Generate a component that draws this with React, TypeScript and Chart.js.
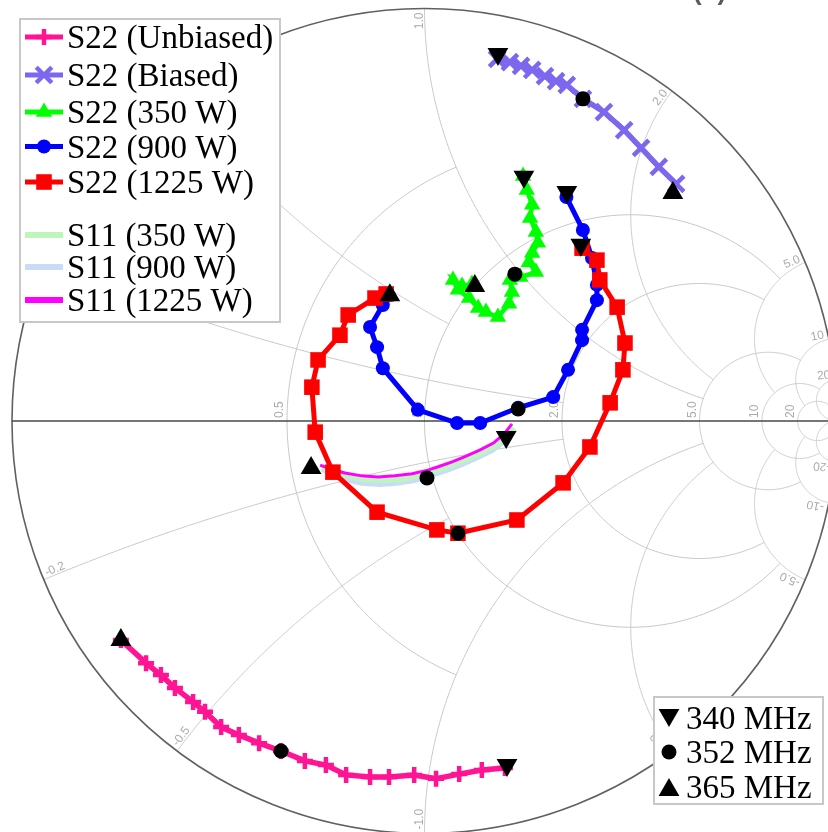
import React, { useEffect, useRef } from "react";
import { Chart, registerables } from "chart.js";

Chart.register(...registerables);

// ---------- Smith chart grid ----------
const resistanceValues = [0.5, 1, 2, 5, 10, 20];
const resistanceLabels = ["0.5", "1.0", "2.0", "5.0", "10", "20"];
const resistanceReach = [1, 5, 5, 10, 20, Infinity];
const reactanceValues = [0.2, 0.5, 1, 2, 5, 10, 20];
const reactanceLabels = ["0.2", "0.5", "1.0", "2.0", "5.0", "10", "20"];
const reactanceReach = [2, 1, 5, 5, 10, 20, Infinity];

// ---------- Series (reflection coefficient, real / imaginary) ----------
const s22UnbiasedRe = [0.195, 0.139, 0.084, 0.028, -0.025, -0.086, -0.132, -0.19, -0.239, -0.29, -0.348, -0.401, -0.45, -0.493, -0.532, -0.561, -0.605, -0.639, -0.675, -0.736];
const s22UnbiasedIm = [-0.841, -0.846, -0.856, -0.867, -0.858, -0.863, -0.863, -0.858, -0.834, -0.824, -0.8, -0.781, -0.761, -0.742, -0.705, -0.681, -0.647, -0.616, -0.587, -0.531];

const s22BiasedRe = [0.176, 0.207, 0.234, 0.261, 0.292, 0.319, 0.345, 0.384, 0.435, 0.484, 0.525, 0.568, 0.61];
const s22BiasedIm = [0.878, 0.87, 0.861, 0.851, 0.836, 0.824, 0.815, 0.781, 0.749, 0.705, 0.662, 0.616, 0.575];

const s22W350Re = [0.239, 0.248, 0.261, 0.256, 0.27, 0.275, 0.261, 0.253, 0.27, 0.232, 0.207, 0.212, 0.205, 0.178, 0.149, 0.13, 0.108, 0.081, 0.069, 0.091, 0.115];
const s22W350Im = [0.594, 0.56, 0.524, 0.492, 0.458, 0.432, 0.407, 0.385, 0.361, 0.349, 0.342, 0.313, 0.284, 0.252, 0.264, 0.274, 0.298, 0.318, 0.342, 0.327, 0.332];

const s22W900Re = [0.344, 0.384, 0.406, 0.418, 0.418, 0.382, 0.382, 0.348, 0.312, 0.227, 0.135, 0.079, -0.016, -0.101, -0.115, -0.132, -0.101, -0.088];
const s22W900Im = [0.543, 0.463, 0.395, 0.33, 0.293, 0.221, 0.196, 0.124, 0.058, 0.032, -0.005, -0.005, 0.027, 0.128, 0.179, 0.228, 0.281, 0.305];

const s22W1225Re = [0.382, 0.418, 0.425, 0.467, 0.486, 0.481, 0.45, 0.401, 0.336, 0.224, 0.081, 0.03, -0.115, -0.222, -0.265, -0.273, -0.258, -0.205, -0.185, -0.12, -0.093];
const s22W1225Im = [0.419, 0.39, 0.342, 0.276, 0.189, 0.124, 0.044, -0.063, -0.15, -0.24, -0.272, -0.264, -0.221, -0.124, -0.027, 0.082, 0.148, 0.208, 0.257, 0.298, 0.308];

const s11W350Re = [0.217, 0.198, 0.168, 0.135, 0.101, 0.062, 0.023, -0.016, -0.059, -0.101, -0.144, -0.185, -0.222, -0.248];
const s11W350Im = [-0.017, -0.039, -0.061, -0.078, -0.092, -0.107, -0.121, -0.133, -0.141, -0.143, -0.141, -0.133, -0.121, -0.112];

const s11W900Re = [0.215, 0.193, 0.164, 0.13, 0.091, 0.052, 0.013, -0.025, -0.067, -0.108, -0.152, -0.19, -0.224, -0.248];
const s11W900Im = [-0.027, -0.048, -0.07, -0.087, -0.104, -0.119, -0.131, -0.143, -0.15, -0.153, -0.15, -0.141, -0.128, -0.116];

const s11W1225Re = [0.212, 0.195, 0.168, 0.135, 0.101, 0.067, 0.033, 0.008, -0.03, -0.072, -0.113, -0.152, -0.193, -0.229, -0.253];
const s11W1225Im = [-0.007, -0.029, -0.053, -0.07, -0.085, -0.099, -0.111, -0.119, -0.128, -0.133, -0.136, -0.133, -0.126, -0.116, -0.107];

// Frequency markers
const f340Re = [0.2, 0.178, 0.241, 0.345, 0.379, 0.198];
const f340Im = [-0.834, 0.89, 0.592, 0.555, 0.427, -0.039];
const f352Re = [-0.348, 0.384, 0.219, 0.227, 0.081, 0.006];
const f352Im = [-0.8, 0.781, 0.356, 0.029, -0.272, -0.138];
const f365Re = [-0.736, 0.602, 0.122, -0.084, -0.275];
const f365Im = [-0.531, 0.553, 0.327, 0.305, -0.114];

const seriesLabels = [
  "S22 (Unbiased)", "S22 (Biased)", "S22 (350 W)", "S22 (900 W)", "S22 (1225 W)",
  "S11 (350 W)", "S11 (900 W)", "S11 (1225 W)",
];
const markerLabels = ["340 MHz", "352 MHz", "365 MHz"];
const panelTag = "(b)";

const W = 828;
const H = 832;
const CX = 424.5, CY = 421, RAD = 412.5;
const SERIF = '"Liberation Serif", "Times New Roman", Times, serif';

const pts = (re: number[], im: number[]) => re.map((v, i) => ({ x: v, y: im[i] }));

function gammaOf(r: number, x: number): [number, number] {
  const d = (r + 1) * (r + 1) + x * x;
  return [(r * r - 1 + x * x) / d, (2 * x) / d];
}

function drawMarker(ctx: CanvasRenderingContext2D, style: string, x: number, y: number, r: number,
  fill: string, stroke: string, bw: number, rot = 0) {
  ctx.save();
  ctx.translate(x, y);
  ctx.rotate((rot * Math.PI) / 180);
  ctx.beginPath();
  let fillable = true;
  if (style === "circle") ctx.arc(0, 0, r, 0, Math.PI * 2);
  else if (style === "triangle") {
    for (let k = 0; k < 3; k++) {
      const a = (k * 2 * Math.PI) / 3;
      const px = Math.sin(a) * r, py = -Math.cos(a) * r;
      if (k === 0) ctx.moveTo(px, py); else ctx.lineTo(px, py);
    }
    ctx.closePath();
  } else if (style === "rect") {
    const s = r * Math.SQRT1_2;
    ctx.rect(-s, -s, 2 * s, 2 * s);
  } else if (style === "cross") {
    fillable = false;
    ctx.moveTo(0, -r); ctx.lineTo(0, r); ctx.moveTo(-r, 0); ctx.lineTo(r, 0);
  } else if (style === "crossRot") {
    fillable = false;
    const s = r * Math.SQRT1_2;
    ctx.moveTo(-s, -s); ctx.lineTo(s, s); ctx.moveTo(-s, s); ctx.lineTo(s, -s);
  }
  if (fillable) { ctx.fillStyle = fill; ctx.fill(); }
  if (bw > 0) { ctx.lineWidth = bw; ctx.strokeStyle = stroke; ctx.stroke(); }
  ctx.restore();
}

const smithGrid = {
  id: "smithGrid",
  beforeDatasetsDraw(chart: any) {
    const { ctx } = chart;
    const xs = chart.scales.x, ys = chart.scales.y;
    const P = (gr: number, gi: number): [number, number] => [xs.getPixelForValue(gr), ys.getPixelForValue(gi)];
    ctx.save();
    ctx.lineWidth = 1;
    ctx.strokeStyle = "#c6c6c6";
    const n = 360;
    resistanceValues.forEach((r, i) => {
      const c = r / (r + 1), rho = 1 / (r + 1);
      const lim = resistanceReach[i];
      let t0 = 0, t1 = Math.PI * 2;
      if (isFinite(lim)) {
        const g = gammaOf(r, lim);
        const th = Math.atan2(g[1], g[0] - c);
        t0 = th; t1 = Math.PI * 2 - th;
      }
      ctx.beginPath();
      for (let k = 0; k <= n; k++) {
        const t = t0 + ((t1 - t0) * k) / n;
        const [px, py] = P(c + rho * Math.cos(t), rho * Math.sin(t));
        if (k === 0) ctx.moveTo(px, py); else ctx.lineTo(px, py);
      }
      ctx.stroke();
    });
    reactanceValues.forEach((xv, i) => {
      [1, -1].forEach((s) => {
        const x = xv * s;
        const cy = 1 / x, rho = 1 / Math.abs(x);
        const g0 = gammaOf(0, x);
        const lim = reactanceReach[i];
        const g1 = isFinite(lim) ? gammaOf(lim, x) : [1, 0];
        const a0 = Math.atan2(g0[1] - cy, g0[0] - 1);
        let d = Math.atan2(g1[1] - cy, g1[0] - 1) - a0;
        while (d > Math.PI) d -= Math.PI * 2;
        while (d <= -Math.PI) d += Math.PI * 2;
        ctx.beginPath();
        for (let k = 0; k <= n; k++) {
          const t = a0 + (d * k) / n;
          const [px, py] = P(1 + rho * Math.cos(t), cy + rho * Math.sin(t));
          if (k === 0) ctx.moveTo(px, py); else ctx.lineTo(px, py);
        }
        ctx.stroke();
      });
    });
    const [ox, oy] = P(0, 0);
    const rpx = P(1, 0)[0] - ox;
    ctx.beginPath();
    ctx.arc(ox, oy, rpx, 0, Math.PI * 2);
    ctx.strokeStyle = "#606060";
    ctx.lineWidth = 1.6;
    ctx.stroke();
    ctx.beginPath();
    const [ax0, ay0] = P(-1, 0);
    const [ax1] = P(1, 0);
    ctx.moveTo(ax0, ay0);
    ctx.lineTo(ax1, ay0);
    ctx.strokeStyle = "#484848";
    ctx.lineWidth = 1.5;
    ctx.stroke();

    ctx.fillStyle = "#ababab";
    ctx.font = '12px "Liberation Sans", Arial, sans-serif';
    ctx.textBaseline = "alphabetic";
    resistanceValues.forEach((r, i) => {
      const [px, py] = P((r - 1) / (r + 1), 0);
      ctx.save();
      ctx.translate(px - 4, py - 3);
      ctx.rotate(-Math.PI / 2);
      ctx.textAlign = "left";
      ctx.fillText(resistanceLabels[i], 0, 0);
      ctx.restore();
    });
    reactanceValues.forEach((xv, i) => {
      [1, -1].forEach((s) => {
        const g = gammaOf(0, xv * s);
        const [px, py] = P(g[0], g[1]);
        const phi = Math.atan2(g[1], g[0]);
        ctx.save();
        ctx.translate(px, py);
        if (s > 0) {
          ctx.rotate(-phi);
          ctx.textAlign = "right";
          ctx.fillText(reactanceLabels[i], -4, -2);
        } else {
          ctx.rotate(-(phi + Math.PI));
          ctx.textAlign = "left";
          ctx.fillText("-" + reactanceLabels[i], 4, -2);
        }
        ctx.restore();
      });
    });
    ctx.restore();
  },
};

const legends = {
  id: "legends",
  afterDraw(chart: any) {
    const { ctx } = chart;
    const ds = chart.data.datasets;
    ctx.save();
    ctx.fillStyle = "#ffffff";
    ctx.fillRect(20, 19, 260, 303);
    ctx.strokeStyle = "#c8c8c8";
    ctx.lineWidth = 2;
    ctx.strokeRect(20, 19, 260, 303);
    const rows = [37, 75, 112, 146.5, 182, 235, 267, 300];
    ctx.font = "33px " + SERIF;
    ctx.textBaseline = "alphabetic";
    ctx.textAlign = "left";
    seriesLabels.forEach((lab, i) => {
      const d = ds.find((q: any) => q.label === lab);
      if (!d) return;
      const y = rows[i];
      ctx.beginPath();
      ctx.moveTo(25, y);
      ctx.lineTo(63, y);
      ctx.strokeStyle = d.borderColor;
      ctx.lineWidth = i < 5 ? 5 : 6;
      ctx.stroke();
      if (d.pointRadius > 0) {
        drawMarker(ctx, d.pointStyle, 44, y, d.pointRadius, d.pointBackgroundColor, d.pointBorderColor, d.pointBorderWidth || 0);
      }
      ctx.fillStyle = "#000";
      ctx.fillText(lab, 67, y + 11);
    });
    ctx.fillStyle = "#ffffff";
    ctx.fillRect(654, 697, 169, 107);
    ctx.strokeStyle = "#c8c8c8";
    ctx.lineWidth = 2;
    ctx.strokeRect(654, 697, 169, 107);
    const frows = [718, 752, 787];
    markerLabels.forEach((lab, i) => {
      const d = ds.find((q: any) => q.label === lab);
      if (!d) return;
      const y = frows[i];
      const rot = d.pointRotation || 0;
      const yy = d.pointStyle === "triangle" ? y + (rot ? -3 : 3) : y;
      drawMarker(ctx, d.pointStyle, 669, yy, d.pointStyle === "triangle" ? 12 : 7.5, "#000", "#000", 0, rot);
      ctx.fillStyle = "#000";
      ctx.fillText(lab, 686, y + 11);
    });
    ctx.font = 'bold 26px "Liberation Sans", Arial, sans-serif';
    ctx.fillStyle = "#5a5a5a";
    ctx.fillText(panelTag, 693, 0);
    ctx.restore();
  },
};

export default function App() {
  const ref = useRef<HTMLCanvasElement | null>(null);
  useEffect(() => {
    if (!ref.current) return;
    const line = (label: string, re: number[], im: number[], color: string, width: number,
      style: string, radius: number, fill: string, bw: number, order: number) => ({
      label,
      data: pts(re, im),
      showLine: true,
      borderColor: color,
      backgroundColor: color,
      borderWidth: width,
      pointStyle: style,
      pointRadius: radius,
      pointBackgroundColor: fill,
      pointBorderColor: color,
      pointBorderWidth: bw,
      tension: 0,
      clip: false,
      order,
    });
    const marks = (label: string, re: number[], im: number[], style: string, radius: number, rot: number) => ({
      label,
      data: pts(re, im),
      showLine: false,
      pointStyle: style,
      pointRadius: radius,
      pointRotation: rot,
      pointBackgroundColor: "#000",
      pointBorderColor: "#000",
      pointBorderWidth: 0,
      backgroundColor: "#000",
      borderColor: "#000",
      clip: false,
      order: 0,
    });
    const chart = new Chart(ref.current, {
      type: "scatter",
      data: {
        datasets: [
          marks(markerLabels[0], f340Re, f340Im, "triangle", 12, 180),
          marks(markerLabels[1], f352Re, f352Im, "circle", 7.5, 0),
          marks(markerLabels[2], f365Re, f365Im, "triangle", 12, 0),
          line(seriesLabels[4], s22W1225Re, s22W1225Im, "#ff0000", 5, "rect", 11, "#ff0000", 0, 1),
          line(seriesLabels[3], s22W900Re, s22W900Im, "#0000ff", 5, "circle", 7, "#0000ff", 0, 2),
          line(seriesLabels[2], s22W350Re, s22W350Im, "#00ff00", 4.5, "triangle", 9.5, "#00ff00", 0, 3),
          line(seriesLabels[1], s22BiasedRe, s22BiasedIm, "#7b68ee", 5.5, "crossRot", 11, "#7b68ee", 4.5, 4),
          line(seriesLabels[0], s22UnbiasedRe, s22UnbiasedIm, "#ff1493", 5.5, "cross", 8, "#ff1493", 4.5, 5),
          line(seriesLabels[7], s11W1225Re, s11W1225Im, "#ff00ff", 3, "circle", 0, "#ff00ff", 0, 6),
          line(seriesLabels[5], s11W350Re, s11W350Im, "#bdf5bd", 6, "circle", 0, "#bdf5bd", 0, 7),
          line(seriesLabels[6], s11W900Re, s11W900Im, "#c8dcf7", 6, "circle", 0, "#c8dcf7", 0, 8),
        ],
      } as any,
      options: {
        animation: false,
        responsive: false,
        maintainAspectRatio: false,
        devicePixelRatio: 1,
        layout: { padding: 0, autoPadding: false },
        plugins: { legend: { display: false }, tooltip: { enabled: false }, title: { display: false } },
        events: [],
        scales: {
          x: { type: "linear", display: false, min: (0 - CX) / RAD, max: (W - CX) / RAD },
          y: { type: "linear", display: false, min: (CY - H) / RAD, max: CY / RAD },
        },
      } as any,
      plugins: [smithGrid, legends],
    });
    return () => chart.destroy();
  }, []);
  return (
    <div style={{ position: "fixed", left: 0, top: 0, width: W, height: H, background: "#fff", overflow: "hidden" }}>
      <canvas ref={ref} width={W} height={H} style={{ display: "block" }} />
    </div>
  );
}
